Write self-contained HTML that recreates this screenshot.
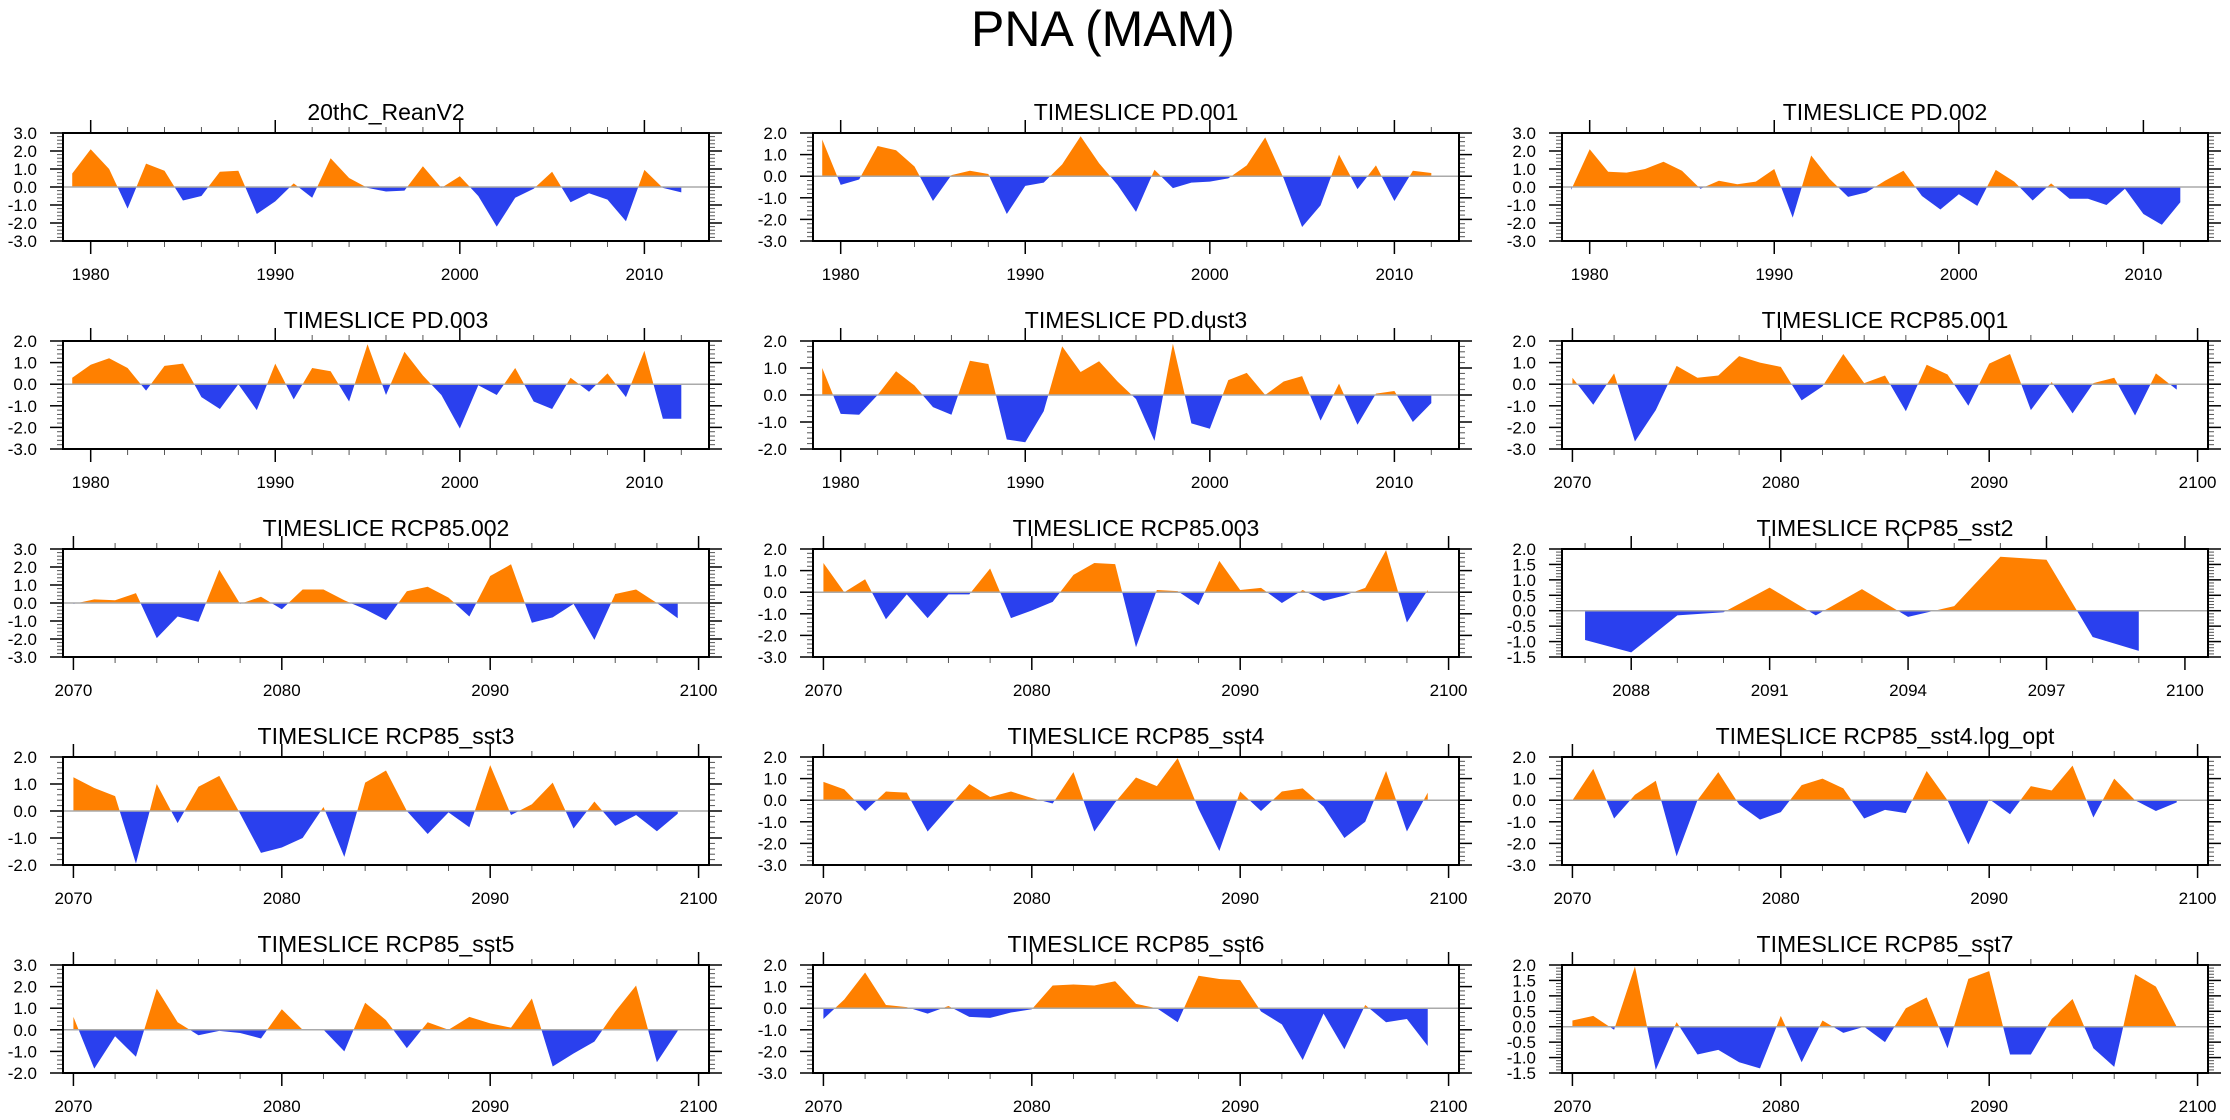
<!DOCTYPE html>
<html><head><meta charset="utf-8"><title>PNA (MAM)</title>
<style>
html,body{margin:0;padding:0;background:#fff;}
svg{display:block;font-family:"Liberation Sans",Arial,sans-serif;}
</style></head>
<body>
<svg id="chart" width="2230" height="1120" viewBox="0 0 2230 1120" xmlns="http://www.w3.org/2000/svg">
<text x="1103" y="46" font-size="50" text-anchor="middle" fill="#000">PNA (MAM)</text>
</svg>
<script>
const titles = ["20thC_ReanV2","TIMESLICE PD.001","TIMESLICE PD.002","TIMESLICE PD.003","TIMESLICE PD.dust3","TIMESLICE RCP85.001","TIMESLICE RCP85.002","TIMESLICE RCP85.003","TIMESLICE RCP85_sst2","TIMESLICE RCP85_sst3","TIMESLICE RCP85_sst4","TIMESLICE RCP85_sst4.log_opt","TIMESLICE RCP85_sst5","TIMESLICE RCP85_sst6","TIMESLICE RCP85_sst7"];
const startYears = [1979,1979,1979,1979,1979,2070,2070,2070,2087,2070,2070,2070,2070,2070,2070];
const yMins = [-3,-3,-3,-3,-2,-3,-3,-3,-1.5,-2,-3,-3,-2,-3,-1.5];
const yMaxs = [3,2,3,2,2,2,3,2,2,2,2,2,3,2,2];
const s_rean = [0.75,2.1,1.0,-1.2,1.3,0.9,-0.75,-0.5,0.85,0.9,-1.5,-0.8,0.2,-0.6,1.6,0.5,-0.05,-0.25,-0.2,1.15,-0.05,0.6,-0.5,-2.2,-0.6,-0.1,0.85,-0.85,-0.35,-0.7,-1.9,0.95,-0.05,-0.3];
const s_pd001 = [1.7,-0.4,-0.15,1.4,1.2,0.45,-1.15,0.05,0.25,0.1,-1.75,-0.45,-0.3,0.55,1.85,0.6,-0.4,-1.65,0.3,-0.55,-0.3,-0.25,-0.1,0.5,1.8,-0.1,-2.35,-1.35,1.0,-0.6,0.5,-1.15,0.25,0.15];
const s_pd002 = [-0.15,2.1,0.85,0.8,1.0,1.4,0.9,-0.1,0.35,0.15,0.3,1.0,-1.7,1.75,0.45,-0.55,-0.3,0.35,0.9,-0.5,-1.25,-0.4,-1.05,0.95,0.3,-0.75,0.2,-0.65,-0.65,-1.0,-0.1,-1.5,-2.1,-0.85];
const s_pd003 = [0.3,0.9,1.2,0.75,-0.3,0.85,0.95,-0.6,-1.15,0.0,-1.2,0.95,-0.7,0.75,0.6,-0.8,1.85,-0.5,1.5,0.4,-0.5,-2.05,-0.05,-0.5,0.75,-0.8,-1.15,0.3,-0.35,0.5,-0.6,1.55,-1.6,-1.6];
const s_dust3 = [1.0,-0.7,-0.73,0.0,0.88,0.35,-0.45,-0.73,1.27,1.15,-1.65,-1.75,-0.6,1.8,0.85,1.25,0.5,-0.15,-1.7,1.9,-1.05,-1.25,0.55,0.82,0.0,0.5,0.7,-0.95,0.42,-1.1,0.05,0.15,-1.0,-0.3];
const s_rcp001 = [0.3,-0.95,0.5,-2.65,-1.2,0.85,0.3,0.4,1.3,1.0,0.8,-0.75,-0.1,1.4,0.05,0.4,-1.25,0.9,0.45,-1.0,0.95,1.4,-1.2,0.1,-1.35,0.05,0.3,-1.45,0.5,-0.25];
const s_rcp002 = [-0.05,0.2,0.15,0.55,-1.95,-0.75,-1.05,1.85,-0.05,0.35,-0.35,0.75,0.75,0.15,-0.35,-0.95,0.65,0.9,0.3,-0.75,1.5,2.15,-1.1,-0.8,-0.05,-2.05,0.5,0.75,0.0,-0.85];
const s_rcp003 = [1.35,0.0,0.6,-1.25,-0.1,-1.2,-0.1,-0.1,1.1,-1.2,-0.85,-0.45,0.8,1.35,1.3,-2.55,0.1,0.05,-0.6,1.45,0.1,0.2,-0.5,0.1,-0.4,-0.15,0.2,1.95,-1.4,0.1];
const s_sst2 = [-0.95,-1.35,-0.15,-0.05,0.75,-0.15,0.7,-0.2,0.15,1.75,1.65,-0.85,-1.3];
const s_sst3 = [1.25,0.85,0.55,-1.95,1.0,-0.45,0.9,1.3,-0.1,-1.55,-1.35,-1.0,0.15,-1.7,1.05,1.5,0.0,-0.85,-0.05,-0.6,1.7,-0.15,0.25,1.05,-0.65,0.35,-0.55,-0.15,-0.75,-0.1];
const s_sst4 = [0.85,0.5,-0.5,0.4,0.35,-1.45,-0.35,0.75,0.15,0.4,0.1,-0.15,1.3,-1.45,-0.1,1.05,0.65,1.95,-0.4,-2.35,0.4,-0.5,0.4,0.55,-0.3,-1.75,-1.0,1.35,-1.45,0.35];
const s_sst4log = [0.0,1.45,-0.85,0.25,0.9,-2.6,0.0,1.3,-0.2,-0.9,-0.55,0.7,1.0,0.55,-0.85,-0.45,-0.6,1.35,0.0,-2.05,0.05,-0.65,0.65,0.45,1.6,-0.8,1.0,0.0,-0.5,-0.1];
const s_sst5 = [0.6,-1.8,-0.3,-1.25,1.9,0.35,-0.25,-0.05,-0.15,-0.4,0.95,0.0,0.0,-1.0,1.25,0.45,-0.85,0.35,0.0,0.6,0.3,0.1,1.45,-1.7,-1.1,-0.55,0.85,2.05,-1.5,-0.05];
const s_sst6 = [-0.5,0.4,1.65,0.15,0.05,-0.25,0.1,-0.4,-0.45,-0.2,-0.05,1.05,1.1,1.05,1.25,0.2,0.0,-0.65,1.5,1.35,1.3,-0.15,-0.75,-2.4,-0.25,-1.9,0.15,-0.65,-0.5,-1.75];
const s_sst7 = [0.2,0.35,-0.1,1.95,-1.4,0.15,-0.9,-0.75,-1.15,-1.35,0.35,-1.15,0.2,-0.2,0.0,-0.5,0.6,0.95,-0.7,1.55,1.8,-0.9,-0.9,0.25,0.9,-0.7,-1.3,1.7,1.3,0.0];
const seriesList = [s_rean,s_pd001,s_pd002,s_pd003,s_dust3,s_rcp001,s_rcp002,s_rcp003,s_sst2,s_sst3,s_sst4,s_sst4log,s_sst5,s_sst6,s_sst7];

const NS = "http://www.w3.org/2000/svg";
const svg = document.getElementById('chart');
const colLeft = [63, 813, 1562], PW = 646, PH = 108, rowTop0 = 133, rowStep = 208;
function mk(tag, attrs, parent){ const e = document.createElementNS(NS, tag); for (const k in attrs) e.setAttribute(k, attrs[k]); parent.appendChild(e); return e; }

seriesList.forEach((vals, i) => {
  const col = i % 3, row = Math.floor(i / 3);
  const L = colLeft[col], T = rowTop0 + row * rowStep, R = L + PW, B = T + PH;
  const y0 = startYears[i];
  const isShort = vals.length < 20;
  let xMin, xMax, major, minor, majorStart;
  if (y0 < 2000) { xMin = 1978.5; xMax = 2013.5; major = 10; minor = 2; majorStart = 1980; }
  else if (isShort) { xMin = 2086.5; xMax = 2100.5; major = 3; minor = 1; majorStart = 2088; }
  else { xMin = 2069.5; xMax = 2100.5; major = 10; minor = 2; majorStart = 2070; }
  const yMin = yMins[i], yMax = yMaxs[i];
  const ystep = (yMin === -1.5) ? 0.5 : 1;
  const xs = v => L + (v - xMin) / (xMax - xMin) * PW;
  const ys = v => B - (v - yMin) / (yMax - yMin) * PH;

  const g = mk('g', {}, svg);
  
  

  const t = mk('text', {x: (L + R) / 2, y: T - 13, 'font-size': 23, 'text-anchor': 'middle', fill: '#000'}, g);
  
  
  t.textContent = titles[i];

  const cid = 'c' + i;
  const defs = mk('defs', {}, g);
  const cpA = mk('clipPath', {id: cid + 'a'}, defs);
  mk('rect', {x: L, y: T, width: PW, height: ys(0) - T}, cpA);
  const cpB = mk('clipPath', {id: cid + 'b'}, defs);
  mk('rect', {x: L, y: ys(0), width: PW, height: B - ys(0)}, cpB);

  let d = 'M' + xs(y0) + ',' + ys(0);
  vals.forEach((v, k) => { d += ' L' + xs(y0 + k).toFixed(2) + ',' + ys(v).toFixed(2); });
  d += ' L' + xs(y0 + vals.length - 1) + ',' + ys(0) + ' Z';
  const pa = mk('path', {d: d, fill: '#ff8000', 'clip-path': 'url(#' + cid + 'a)'}, g);
  
  
  const pb = mk('path', {d: d, fill: '#2a40ee', 'clip-path': 'url(#' + cid + 'b)'}, g);
  
  

  const zl = mk('line', {x1: L, x2: R, y1: ys(0), y2: ys(0), stroke: '#aaaaaa', 'stroke-width': 1.5}, g);
  
  

  const tk = mk('g', {stroke: '#000', 'stroke-width': 1.5}, g);
  
  
  const nMinor = Math.round((yMax - yMin) / (ystep / 5));
  for (let k = 0; k <= nMinor; k++) {
    const v = yMin + k * ystep / 5; const yy = ys(v);
    const isMaj = k % 5 === 0; const len = isMaj ? 13 : 6;
    mk('line', {x1: L - len, x2: L, y1: yy, y2: yy, 'stroke-width': isMaj ? 1.5 : 1, stroke: isMaj ? '#000' : '#555'}, tk);
    mk('line', {x1: R, x2: R + len, y1: yy, y2: yy, 'stroke-width': isMaj ? 1.5 : 1, stroke: isMaj ? '#000' : '#555'}, tk);
    if (isMaj) {
      const lb = mk('text', {x: L - 26, y: yy + 6, 'font-size': 17, 'text-anchor': 'end', fill: '#000', stroke: 'none'}, g);
      
      
      lb.textContent = v.toFixed(1);
    }
  }
  for (let yr = Math.ceil(xMin); yr <= xMax; yr++) {
    if ((yr - majorStart) % minor !== 0) continue;
    const isMaj = ((yr - majorStart) % major === 0) && yr >= majorStart;
    const len = isMaj ? 13 : 6; const xx = xs(yr);
    mk('line', {x1: xx, x2: xx, y1: T - len, y2: T, 'stroke-width': isMaj ? 1.5 : 1, stroke: isMaj ? '#000' : '#555'}, tk);
    mk('line', {x1: xx, x2: xx, y1: B, y2: B + len, 'stroke-width': isMaj ? 1.5 : 1, stroke: isMaj ? '#000' : '#555'}, tk);
    if (isMaj) {
      const lb = mk('text', {x: xx, y: B + 39, 'font-size': 17, 'text-anchor': 'middle', fill: '#000', stroke: 'none'}, g);
      
      
      lb.textContent = yr;
    }
  }
  const fr = mk('rect', {x: L, y: T, width: PW, height: PH, fill: 'none', stroke: '#000', 'stroke-width': 2}, g);
  
  
});
</script>
</body></html>
